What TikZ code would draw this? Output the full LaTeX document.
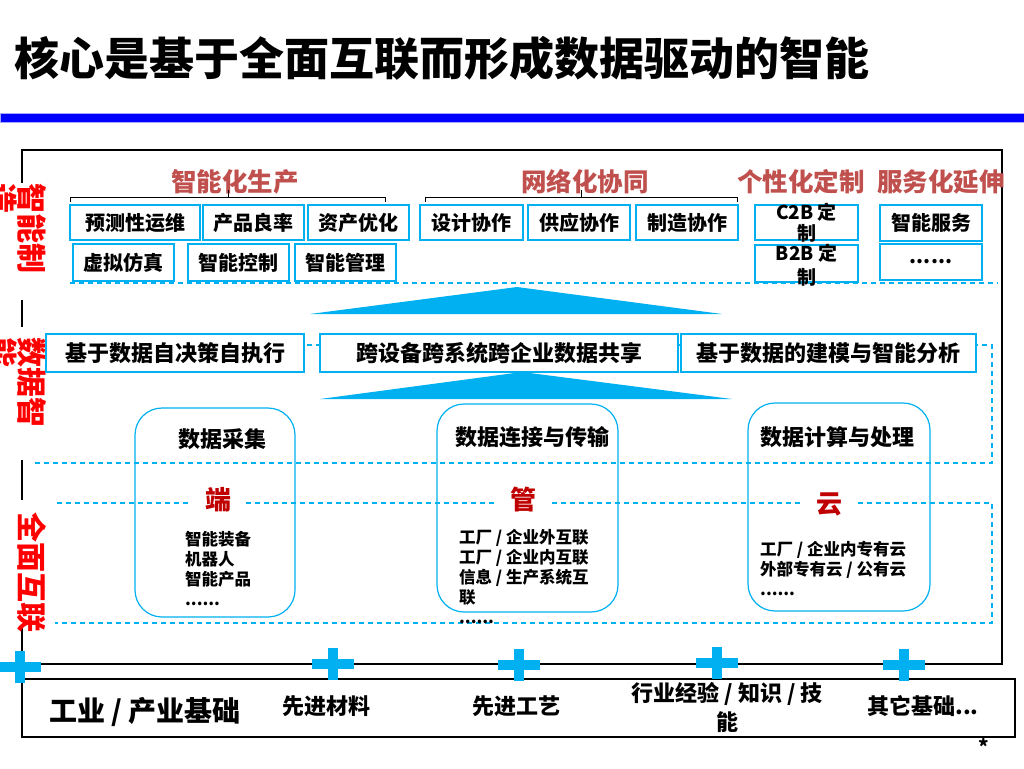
\documentclass[tikz,border=0pt]{standalone}
\usepackage{fontspec}
\setmainfont{Noto Sans CJK SC}
\usepackage{xcolor}
\usetikzlibrary{positioning}
\definecolor{skyline}{HTML}{00B0F0}
\definecolor{headred}{HTML}{C0504D}
\definecolor{darkred}{HTML}{C00000}
\definecolor{barblue}{HTML}{0000FF}

\begin{document}
\begin{tikzpicture}[
  x=1pt, y=-1pt,
  cell/.style={draw=skyline, line width=1.5pt, fill=white, inner sep=0pt, align=center, font=\fontsize{20}{20}\selectfont\bfseries},
  wide/.style={cell, font=\fontsize{22}{24}\selectfont\bfseries},
  head/.style={text=headred, inner sep=0pt, font=\fontsize{25.5}{28}\selectfont\bfseries},
  side/.style={text=red, rotate=-90, align=left, anchor=north west, inner sep=0pt, font=\fontsize{30}{28}\selectfont\bfseries},
  pod/.style={draw=skyline, line width=1.2pt, rounded corners=27pt, inner sep=0pt},
  podhead/.style={inner sep=0pt, font=\fontsize{22}{24}\selectfont\bfseries},
  tier/.style={text=darkred, fill=white, inner xsep=13pt, inner ysep=2pt, font=\fontsize{26}{28}\selectfont\bfseries},
  list/.style={align=left, anchor=north west, inner sep=0pt, font=\fontsize{16.5}{20}\selectfont\bfseries},
  zone/.style={draw=skyline, line width=1.3pt, dash pattern=on 5pt off 4pt},
  frame/.style={draw=black, line width=1.5pt},
  brace/.style={draw=black, line width=1pt},
  wedge/.style={fill=skyline},
  plus/.style={draw=skyline, line width=10pt},
  basis/.style={inner sep=0pt, align=center, font=\fontsize{22}{29}\selectfont\bfseries}
]
\useasboundingbox (0,0) rectangle (1024,768);

\node[inner sep=0pt, font=\fontsize{45}{48}\selectfont\bfseries] (ttl) at (442,58) {核心是基于全面互联而形成数据驱动的智能};
\fill[barblue, draw=blue!35, line width=0.8pt] (0,113) rectangle (1024,122);

\draw[frame] (22,183)--(22,150)--(1002,150)--(1002,664)--(22,664)--(22,627);
\draw[frame] (22,300)--(22,327);
\draw[frame] (22,460)--(22,500);

\node[side] (smart) at (47,183) {智能制\\造};
\node[side] (data) at (47,337) {数据智\\能};
\node[side] (net) at (47,512) {全面互联};

\draw[zone] (70,283)--(998,283);
\draw[zone] (46,345)--(992,345)--(992,463)--(33,463);
\draw[zone] (57,503)--(992,503)--(992,623)--(55,623);

\node[head] (h1) at (235,182) {智能化生产};
\node[head] (h2) at (585,182) {网络化协同};
\node[head] (h3) at (801,182) {个性化定制};
\node[head] (h4) at (941,182) {服务化延伸};
\draw[brace] (70,202)--(70,197)--(385,197)--(385,202);
\draw[brace] (228,197)--(228,190);
\draw[brace] (425,202)--(425,197)--(737,197)--(737,202);
\draw[brace] (581,197)--(581,190);

\node[cell, minimum width=130pt, minimum height=35pt] (p1) at (135,222.5) {预测性运维};
\node[cell, minimum width=101pt, minimum height=35pt] (p2) at (253.5,222.5) {产品良率};
\node[cell, minimum width=101pt, minimum height=35pt] (p3) at (358.5,222.5) {资产优化};
\node[cell, minimum width=101pt, minimum height=37pt] (p4) at (123.5,262.5) {虚拟仿真};
\node[cell, minimum width=101pt, minimum height=37pt] (p5) at (238.5,262.5) {智能控制};
\node[cell, minimum width=101pt, minimum height=37pt] (p6) at (345.5,262.5) {智能管理};
\node[cell, minimum width=103pt, minimum height=35pt] (n1) at (471.5,222.5) {设计协作};
\node[cell, minimum width=102pt, minimum height=35pt] (n2) at (579,222.5) {供应协作};
\node[cell, minimum width=102pt, minimum height=35pt] (n3) at (687,222.5) {制造协作};
\node[cell, minimum width=103pt, minimum height=35pt] (c1) at (806.5,222.5) {};
\node[cell, minimum width=103pt, minimum height=37pt] (c2) at (806.5,263.5) {};
\node[inner sep=0pt, align=center, font=\fontsize{19}{21}\selectfont\bfseries] (c1t) at (c1) {C2B 定\\制};
\node[inner sep=0pt, align=center, font=\fontsize{19}{24}\selectfont\bfseries] (c2t) at ([yshift=-2pt]c2) {B2B 定\\制};
\node[cell, minimum width=102pt, minimum height=36pt] (s1) at (931,223) {智能服务};
\node[cell, minimum width=102pt, minimum height=36pt] (s2) at (931,262) {......};

\fill[wedge] (310,314)--(517,287)--(722,314)--cycle;
\node[wide, minimum width=258pt, minimum height=38pt] (d1) at (175,353) {基于数据自决策自执行};
\node[wide, minimum width=358pt, minimum height=38pt] (d2) at (499,353) {跨设备跨系统跨企业数据共享};
\node[wide, minimum width=295pt, minimum height=38pt] (d3) at (828.5,353) {基于数据的建模与智能分析};
\fill[wedge] (320,399)--(522,372)--(732,399)--cycle;

\node[pod, minimum width=160pt, minimum height=209pt] (r1) at (215,512.5) {};
\node[pod, minimum width=181pt, minimum height=208pt] (r2) at (527.5,508) {};
\node[pod, minimum width=182pt, minimum height=208pt] (r3) at (839,507) {};
\node[podhead] (r1h) at (222,439) {数据采集};
\node[podhead] (r2h) at (532,437) {数据连接与传输};
\node[podhead] (r3h) at (837,437) {数据计算与处理};
\node[tier] (end) at (218,500) {端};
\node[tier] (pipe) at (523,500) {管};
\node[tier] (cloud) at (829,504) {云};
\node[list] (l1) at (185,531) {智能装备\\机器人\\智能产品\\......};
\node[list] (l2) at (459,529) {工厂 / 企业外互联\\工厂 / 企业内互联\\信息 / 生产系统互\\联\\......};
\node[list] (l3) at (760,541) {工厂 / 企业内专有云\\外部专有云 / 公有云\\......};

\node[frame, minimum width=993pt, minimum height=58pt, inner sep=0pt] (found) at (518.5,708) {};
\node[basis, font=\fontsize{28}{30}\selectfont\bfseries] (b0) at (145,712) {工业 / 产业基础};
\node[basis] (b1) at (326,706) {先进材料};
\node[basis] (b2) at (516,706) {先进工艺};
\node[basis] (b3) at (727,707.5) {行业经验 / 知识 / 技\\能};
\node[basis] (b4) at (923,706) {其它基础...};
\node[inner sep=0pt, font=\fontsize{20}{20}\selectfont\bfseries] (star) at (984,746) {*};

\foreach \px/\py in {20/667, 333/664, 519/665, 717/663, 904/665} {
  \draw[plus] (\px-21,\py)--(\px+21,\py);
  \draw[plus] (\px,\py-16)--(\px,\py+16);
}
\end{tikzpicture}
\end{document}
